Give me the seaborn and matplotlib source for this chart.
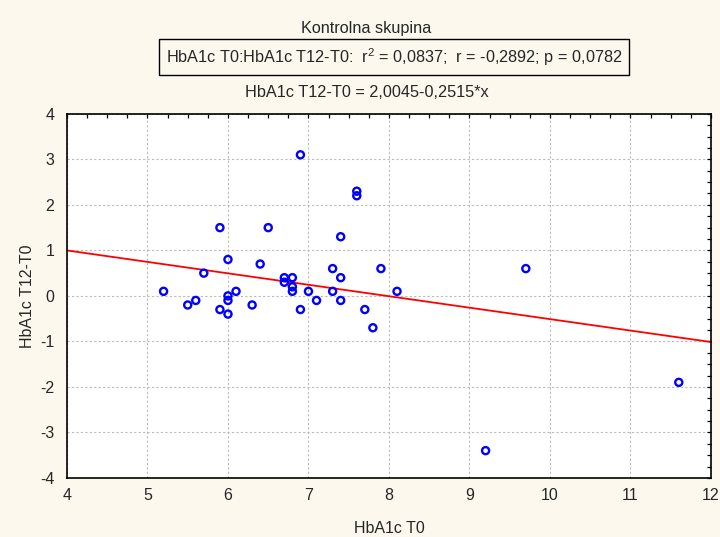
import numpy as np
import pandas as pd
import matplotlib
matplotlib.use('Agg')
import matplotlib.pyplot as plt
from matplotlib.ticker import MultipleLocator
import seaborn as sns

# ---- data ----
hba1c_t0 = [5.2, 5.5, 5.6, 5.7, 5.9, 5.9, 6.0, 6.0, 6.0, 6.0,
            6.1, 6.3, 6.4, 6.5, 6.7, 6.7, 6.8, 6.8, 6.8, 6.9,
            6.9, 7.0, 7.1, 7.3, 7.3, 7.4, 7.4, 7.4, 7.6, 7.6,
            7.7, 7.8, 7.9, 8.1, 9.2, 9.7, 11.6]
hba1c_diff = [0.1, -0.2, -0.1, 0.5, 1.5, -0.3, 0.8, 0.0, -0.1, -0.4,
              0.1, -0.2, 0.7, 1.5, 0.4, 0.3, 0.4, 0.2, 0.1, 3.1,
              -0.3, 0.1, -0.1, 0.6, 0.1, 1.3, 0.4, -0.1, 2.3, 2.2,
              -0.3, -0.7, 0.6, 0.1, -3.4, 0.6, -1.9]

# regression coefficients as printed on the chart
intercept = 2.0045
slope = -0.2515

title = 'Kontrolna skupina'
stats_text = 'HbA1c T0:HbA1c T12-T0:  r$^2$ = 0,0837;  r = -0,2892; p = 0,0782'
eq_text = 'HbA1c T12-T0 = 2,0045-0,2515*x'
x_label = 'HbA1c T0'
y_label = 'HbA1c T12-T0'

df = pd.DataFrame({'x': hba1c_t0, 'y': hba1c_diff})

sns.set_style('white')
plt.rcParams['font.family'] = ['Liberation Sans', 'DejaVu Sans']
plt.rcParams['mathtext.fontset'] = 'custom'
plt.rcParams['mathtext.rm'] = 'Liberation Sans'
plt.rcParams['axes.unicode_minus'] = False

FS = 11.5       # axis text
FS_TOP = 11.7   # header texts
bg = '#FCF8EE'
fig = plt.figure(figsize=(7.2, 5.37), dpi=100, facecolor=bg)
ax = fig.add_axes([0.093, 0.110, 0.8945, 0.678])
ax.set_facecolor('white')

sns.scatterplot(data=df, x='x', y='y', ax=ax, marker='o', s=26,
                facecolor='none', edgecolor='#0000FF', linewidth=1.7, zorder=3)
ax.axline((0, intercept), slope=slope, color='red', lw=1.3, zorder=2)

ax.set_xlim(4, 12)
ax.set_ylim(-4, 4)
ax.xaxis.set_major_locator(MultipleLocator(1))
ax.yaxis.set_major_locator(MultipleLocator(1))
ax.xaxis.set_minor_locator(MultipleLocator(0.25))
ax.yaxis.set_minor_locator(MultipleLocator(0.25))
ax.grid(True, which='major', color='#BBBBBB', linestyle=(0, (2, 2)), lw=0.8)
ax.tick_params(which='both', direction='in', top=True, right=True,
               labelsize=FS, color='black', length=3, width=0.9)
ax.tick_params(axis='x', which='major', pad=7)
ax.tick_params(axis='y', which='major', pad=9)
for s in ax.spines.values():
    s.set_color('black')
    s.set_linewidth(1.2)

ax.set_xlabel(x_label, fontsize=FS, labelpad=13)
ax.set_ylabel(y_label, fontsize=FS, labelpad=4)

fig.text(0.508, 0.946, title, ha='center', va='center', fontsize=FS_TOP)
fig.text(0.547, 0.894, stats_text, ha='center', va='center', fontsize=FS_TOP,
         bbox=dict(boxstyle='square,pad=0.42', fc=bg, ec='black', lw=1))
fig.text(0.510, 0.827, eq_text, ha='center', va='center', fontsize=FS_TOP)

fig.savefig('out.png', dpi=100, facecolor=bg)
